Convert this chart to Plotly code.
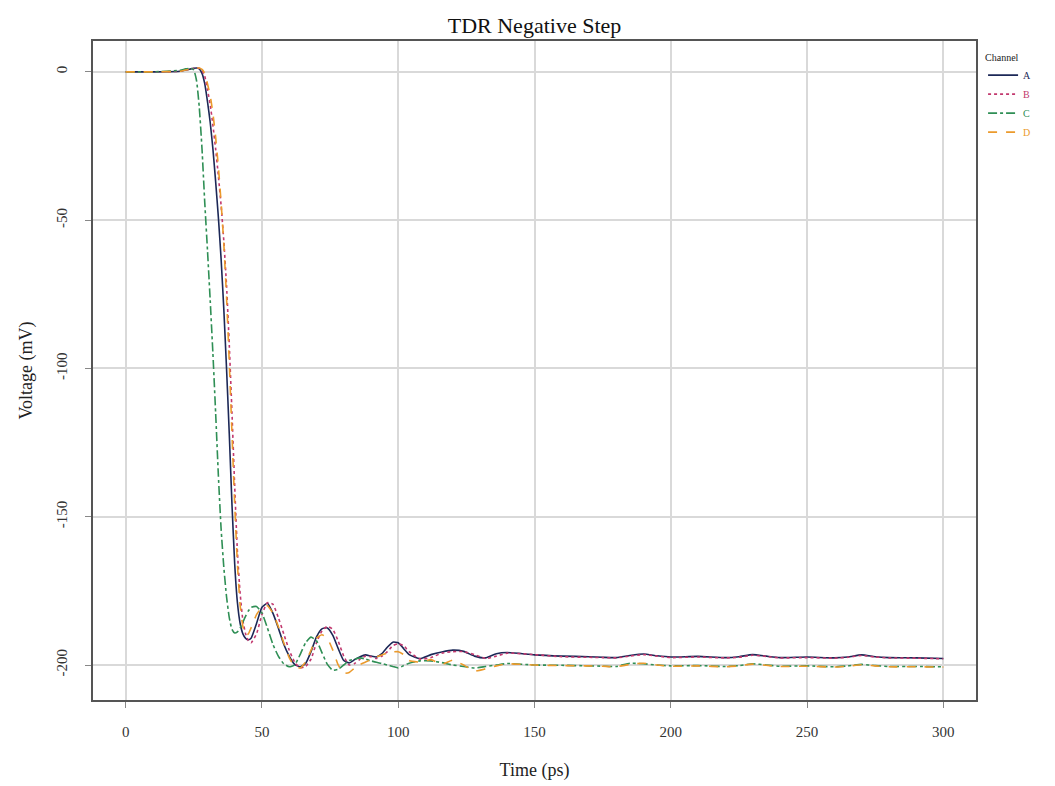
import plotly.graph_objects as go

# time axis (ps), shared by all four channels
time_ps = [0, 10, 20, 22, 24, 25, 26, 27, 28, 29,
           30, 31, 32, 33, 34, 35, 36, 37, 38, 39,
           40, 41, 42, 43, 44, 45, 46, 48, 50, 52,
           54, 56, 58, 60, 62, 64, 66, 68, 70, 72,
           74, 76, 78, 80, 82, 84, 86, 88, 90, 92,
           94, 96, 98, 100, 102, 104, 108, 112, 116, 120,
           124, 128, 132, 136, 140, 150, 160, 170, 175, 180,
           185, 190, 195, 200, 210, 220, 225, 230, 235, 240,
           250, 260, 265, 270, 275, 280, 290, 300]

# voltages (mV) per channel
chan_a = [0, 0, 0.2, 0.6, 1.0, 1.2, 1.3, 1.0, -0.5, -4,
          -10, -17, -26, -37, -49, -63, -80, -100, -122, -146,
          -166, -179, -186, -189.5, -191, -191.5, -191, -186, -180.5, -179.2,
          -182.5, -187.5, -193, -197, -199.8, -200.6, -199.5, -195.5, -190.5, -187.8,
          -187.5, -190, -194.5, -198.5, -199.3, -198.2, -197.2, -196.6, -197, -197.3,
          -196.2, -194, -192.3, -192.5, -194.5, -196.5, -197.8, -196.5, -195.6, -195,
          -195.4, -197, -197.6, -196.2, -195.8, -196.6, -197, -197.2, -197.4, -197.5,
          -196.8, -196.3, -196.9, -197.3, -197.1, -197.5, -197.2, -196.5, -197, -197.5,
          -197.3, -197.6, -197.3, -196.6, -197.2, -197.5, -197.6, -197.8]

chan_b = [0, 0, 0.2, 0.6, 1.0, 1.2, 1.3, 1.2, 0.5, -1.5,
          -6, -11, -18, -26, -35, -45, -57, -72, -92, -115,
          -140, -162, -176, -185, -189.5, -191.8, -192.5, -189.5, -183, -179,
          -179.5, -184, -189.5, -195, -199, -201, -200.5, -198, -192.5, -188.5,
          -187, -188, -192, -197, -200, -199.5, -198, -197, -197.2, -197.8,
          -197, -195.5, -193.5, -192.8, -193.5, -195.5, -198, -197.5, -196, -195.5,
          -195.5, -196.5, -197.8, -197, -196, -196.5, -197.2, -197.4, -197.5, -197.6,
          -197, -196.5, -197, -197.5, -197.3, -197.6, -197.4, -196.7, -197.1, -197.6,
          -197.5, -197.7, -197.4, -196.8, -197.3, -197.6, -197.7, -197.9]

chan_c = [0, 0, 0.5, 1.0, 1.2, 0.6, -3, -12, -26, -44,
          -60, -77, -95, -115, -136, -154, -167, -177, -184, -188,
          -189.2, -188.8, -187.5, -185.5, -183.5, -181.8, -180.6, -180.3, -182.5, -187.5,
          -193, -197, -199.6, -200.6, -200, -196.5, -192.5, -190.6, -191.8, -195.8,
          -199.8, -201.8, -201.4, -200, -198.5, -198, -197.6, -198, -198.6, -199.1,
          -199.5, -200, -200.5, -201, -200.2, -199.4, -198.6, -198.6, -199.2, -200,
          -200.5, -201, -200.5, -200, -199.5, -200, -200.1, -200.3, -200.4, -200.5,
          -199.4, -199.6, -200, -200.3, -200.2, -200.5, -200.2, -199.6, -200, -200.4,
          -200.3, -200.6, -200.3, -199.8, -200.2, -200.5, -200.5, -200.6]

chan_d = [0, 0, 0.2, 0.6, 1.0, 1.2, 1.3, 1.3, 0.8, -0.5,
          -4, -8, -14, -22, -32, -44, -58, -76, -98, -122,
          -146, -166, -180, -187, -190, -189.5, -187.5, -183, -180.5, -180,
          -182.5, -187, -192.5, -197.5, -200.5, -201, -199, -195, -191, -189.8,
          -191, -195, -200, -202.8, -202.5, -201, -199.8, -199, -198.2, -197.3,
          -196.6, -196, -195.6, -195.5, -196.5, -198.5, -199, -198.2, -199.8, -198.4,
          -200, -202, -201.3, -200.3, -199.6, -200, -200.2, -200.3, -200.4, -200.6,
          -199.8, -199.4, -200, -200.4, -200.3, -200.6, -200.3, -199.7, -200.1, -200.5,
          -200.4, -200.7, -200.4, -199.9, -200.3, -200.6, -200.6, -200.7]

channels = ["A", "B", "C", "D"]
x_ticks = [0, 50, 100, 150, 200, 250, 300]
y_ticks = [0, -50, -100, -150, -200]
y_tick_text = ["0", "-50", "-100", "-150", "-200"]

serif = "Liberation Serif"
colors = ["#1c2857", "#c2386e", "#2f8f55", "#eb9a2c"]
dashes = ["solid", "dot", "dashdot", "dash"]

fig = go.Figure()
for name, vals, col, dsh in zip(channels, [chan_a, chan_b, chan_c, chan_d], colors, dashes):
    fig.add_trace(go.Scatter(
        x=time_ps, y=vals, mode="lines",
        name=f"<span style='color:{col}'>{name}</span>",
        line=dict(color=col, width=1.6, dash=dsh, shape="spline", smoothing=0.5),
    ))

axis_common = dict(
    showgrid=True, gridcolor="#d9d9d9", gridwidth=1.5,
    zeroline=False,
    showline=True, linecolor="#555555", linewidth=2, mirror=True,
    ticks="outside", ticklen=6, tickcolor="#888888",
    tickfont=dict(family=serif, size=15, color="#333333"),
)

fig.update_xaxes(
    range=[-12, 312], tickvals=x_ticks, ticklabelstandoff=11,
    title=dict(text="Time (ps)", font=dict(family=serif, size=18, color="#222222"), standoff=24),
    **axis_common,
)
fig.update_yaxes(
    range=[-211.8, 10.4], tickvals=y_ticks, ticktext=y_tick_text, tickangle=-90,
    ticklabelstandoff=12,
    title=dict(text="Voltage (mV)", font=dict(family=serif, size=18, color="#222222"), standoff=17),
    **axis_common,
)

fig.update_layout(
    width=1047, height=778,
    autosize=False,
    paper_bgcolor="white", plot_bgcolor="white",
    margin=dict(l=85, r=79, t=33, b=86, autoexpand=False),
    title=dict(text="TDR Negative Step", x=0.5, xref="paper", y=0.988, yanchor="top",
               font=dict(family=serif, size=22, color="#111111")),
    legend=dict(
        title=dict(text="Channel", font=dict(family=serif, size=10, color="#222222")),
        x=1.008, y=0.99, xanchor="left", yanchor="top",
        font=dict(family=serif, size=10),
        itemwidth=30, tracegroupgap=0,
        bgcolor="rgba(0,0,0,0)",
    ),
)

fig.write_html("out.html")
